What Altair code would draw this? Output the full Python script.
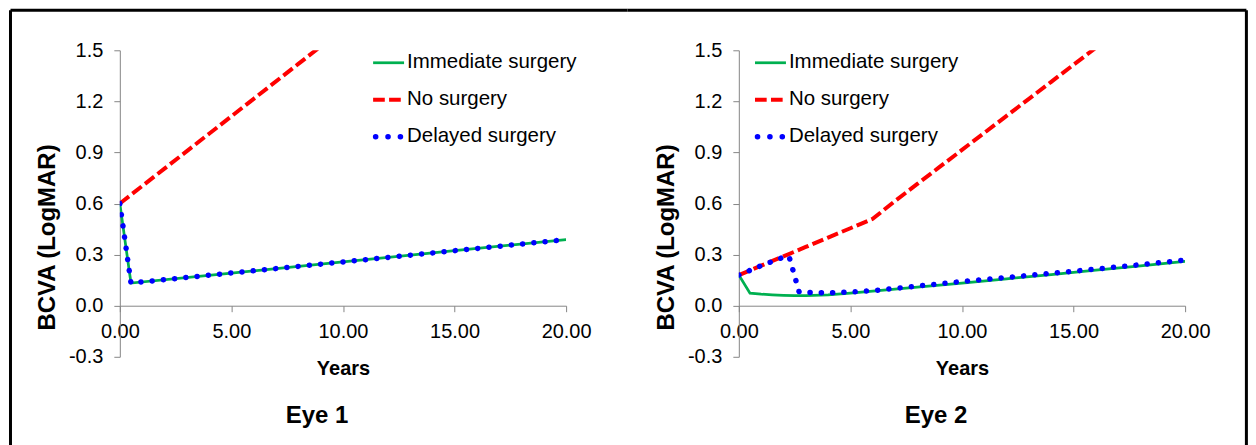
import altair as alt
import pandas as pd

# ---------------- data ----------------
SERIES = ["Immediate surgery", "No surgery", "Delayed surgery"]
COLORS = ["#00B050", "#FF0000", "#0000FF"]
PANEL_TITLES = ["Eye 1", "Eye 2"]
X_TICKS = [0, 5, 10, 15, 20]
Y_TICKS = [-0.3, 0.0, 0.3, 0.6, 0.9, 1.2, 1.5]

# Eye 1
eye1_immediate_years = [0, 0.5, 5, 10, 15, 20]
eye1_immediate_bcva = [0.60, 0.133, 0.192, 0.257, 0.323, 0.388]
eye1_none_years = [0, 2, 4, 6, 8, 10]
eye1_none_bcva = [0.60, 0.805, 1.01, 1.215, 1.42, 1.625]
eye1_delayed_years = [0, 0.5, 5, 10, 15, 20]
eye1_delayed_bcva = [0.60, 0.133, 0.192, 0.257, 0.323, 0.388]

# Eye 2
eye2_immediate_years = [0, 0.5, 1, 1.5, 2, 2.5, 3, 4, 5, 6, 8, 10, 12, 14, 16, 18, 20]
eye2_immediate_bcva = [0.18, 0.074, 0.068, 0.064, 0.061, 0.059, 0.059, 0.064, 0.074,
                       0.085, 0.109, 0.133, 0.158, 0.183, 0.209, 0.234, 0.26]
eye2_none_years = [0, 1, 2, 3, 4, 5, 6, 7, 8, 9, 10, 11, 12, 13, 14, 15, 16, 17]
eye2_none_bcva = [0.18, 0.235, 0.29, 0.345, 0.40, 0.455, 0.51, 0.615, 0.715, 0.815,
                  0.915, 1.015, 1.115, 1.215, 1.315, 1.415, 1.515, 1.615]
eye2_delayed_years = [0, 1, 2, 2.25, 2.7, 3, 4, 5, 6, 8, 10, 12, 14, 16, 18, 20]
eye2_delayed_bcva = [0.18, 0.235, 0.285, 0.29, 0.082, 0.078, 0.076, 0.08, 0.088,
                     0.115, 0.142, 0.166, 0.19, 0.215, 0.241, 0.268]


def long_df(parts):
    rows = []
    for name, xs, ys in parts:
        for xv, yv in zip(xs, ys):
            rows.append({"series": name, "year": xv, "bcva": yv})
    return pd.DataFrame(rows)


df1 = long_df([(SERIES[0], eye1_immediate_years, eye1_immediate_bcva),
               (SERIES[1], eye1_none_years, eye1_none_bcva),
               (SERIES[2], eye1_delayed_years, eye1_delayed_bcva)])
df2 = long_df([(SERIES[0], eye2_immediate_years, eye2_immediate_bcva),
               (SERIES[1], eye2_none_years, eye2_none_bcva),
               (SERIES[2], eye2_delayed_years, eye2_delayed_bcva)])

FONT = "Liberation Sans"
W, H = 447, 307
AXIS_GREY = "#868686"
LEG_Y = [12.5, 49.5, 86.5]
DOT_DASH = [0.1, 11.2]
RED_DASH = [11.7, 4.3]
TICK_FS = 20
LEG_FS = 20.5


def panel(df, legend_x, title, border_left, border_right, left_line, right_line):
    x_enc = alt.X("year:Q", title="Years",
                  scale=alt.Scale(domain=[0, 20], nice=False, zero=False),
                  axis=alt.Axis(values=X_TICKS, format=".2f", offset=-51.17,
                                tickSize=6, labelPadding=9.5, grid=False,
                                labelFlush=False, labelOverlap=False,
                                domainColor=AXIS_GREY, tickColor=AXIS_GREY,
                                labelFontSize=TICK_FS, labelColor="black", labelFont=FONT,
                                titleFontSize=20, titleFontWeight="bold", titleColor="black",
                                titleFont=FONT, titleY=63, titleBaseline="middle"))
    y_enc = alt.Y("bcva:Q", title="BCVA (LogMAR)",
                  scale=alt.Scale(domain=[-0.3, 1.5], nice=False, zero=False),
                  axis=alt.Axis(values=Y_TICKS,
                                labelExpr="datum.value < 0 ? '-' + format(-datum.value, '.1f') : format(datum.value, '.1f')",
                                tickSize=6, labelPadding=11, grid=False,
                                labelFlush=False, labelOverlap=False,
                                domainColor=AXIS_GREY, tickColor=AXIS_GREY,
                                labelFontSize=TICK_FS, labelColor="black", labelFont=FONT,
                                titleFontSize=24, titleFontWeight="bold", titleColor="black",
                                titleFont=FONT, titleX=-72, titleY=187, titleAngle=270,
                                titleAlign="center", titleBaseline="middle"))
    base = alt.Chart(df).encode(x=x_enc, y=y_enc)
    imm = base.transform_filter(alt.datum.series == SERIES[0]).mark_line(
        color=COLORS[0], strokeWidth=2.75, clip=True)
    none = base.transform_filter(alt.datum.series == SERIES[1]).mark_line(
        color=COLORS[1], strokeWidth=4, strokeDash=RED_DASH, clip=True)
    dly = base.transform_filter(alt.datum.series == SERIES[2]).mark_line(
        color=COLORS[2], strokeWidth=5.5, strokeDash=DOT_DASH, strokeCap="round", clip=True)

    deco = alt.Chart(alt.Data(values=[{"k": 1}]))
    layers = [imm, none, dly]
    # frame
    layers.append(deco.mark_rule(color="black", strokeWidth=3).encode(
        x=alt.value(border_left), x2=alt.value(border_right), y=alt.value(-40)))
    if left_line:
        layers.append(deco.mark_rule(color="black", strokeWidth=3).encode(
            x=alt.value(border_left), y=alt.value(-40), y2=alt.value(396)))
    if right_line:
        layers.append(deco.mark_rule(color="black", strokeWidth=3).encode(
            x=alt.value(border_right), y=alt.value(-40), y2=alt.value(396)))
    # legend
    styles = [dict(strokeWidth=2.75),
              dict(strokeWidth=4, strokeDash=RED_DASH),
              dict(strokeWidth=5.5, strokeDash=[0.1, 12.3], strokeCap="round")]
    for i, lab in enumerate(SERIES):
        x0 = legend_x + (2.5 if i == 2 else 0)
        layers.append(deco.mark_rule(color=COLORS[i], **styles[i]).encode(
            x=alt.value(x0), x2=alt.value(legend_x + 31), y=alt.value(LEG_Y[i])))
        layers.append(deco.mark_text(text=lab, font=FONT, fontSize=LEG_FS, color="black",
                                     align="left", baseline="middle").encode(
            x=alt.value(legend_x + 34), y=alt.value(LEG_Y[i] - 0.5)))
    # panel caption
    layers.append(deco.mark_text(text=title, font=FONT, fontSize=24, fontWeight="bold",
                                 color="black", align="center", baseline="middle").encode(
        x=alt.value(197.5), y=alt.value(366)))
    return alt.layer(*layers).properties(width=W, height=H)


p1 = panel(df1, 253.7, PANEL_TITLES[0], -109.5, 508.5, True, False)
p2 = panel(df2, 16.2, PANEL_TITLES[1], -111.5, 508.4, False, True)

chart = alt.hconcat(p1, p2, spacing=-3).properties(
    padding={"left": 1, "right": 0, "top": 0, "bottom": 0},
    background="white",
).configure_view(stroke=None)

chart.save("out.html", embed_options={"renderer": "svg", "actions": False})
